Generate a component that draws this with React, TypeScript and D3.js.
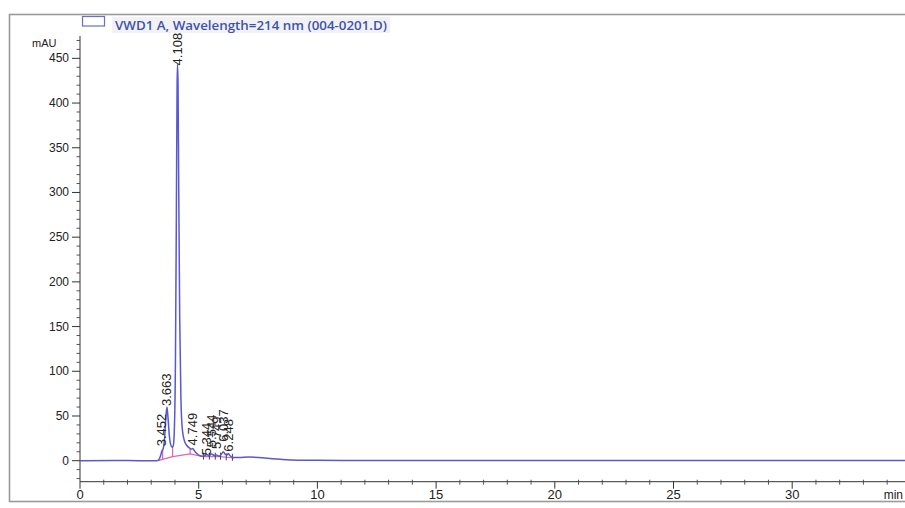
import React from "react";
import * as d3 from "d3";

// Signal trace: [time (min), absorbance (mAU)]
const signalTimes = [0, 1.5, 2.5, 3.25, 3.32, 3.40, 3.452, 3.50, 3.56, 3.61, 3.663, 3.71, 3.76, 3.82, 3.88, 3.93, 3.98, 4.02, 4.06, 4.09, 4.108, 4.13, 4.16, 4.20, 4.25, 4.31, 4.40, 4.50, 4.62, 4.70, 4.749, 4.82, 4.92, 5.02, 5.15, 5.25, 5.344, 5.43, 5.544, 5.64, 5.749, 5.85, 5.95, 6.037, 6.12, 6.20, 6.248, 6.32, 6.45, 6.7, 7.1, 7.5, 7.9, 8.3, 8.7, 9.2, 10, 12, 16, 22, 28, 35];
const signalValues = [0, 0.3, 0, 0, 1, 6, 11, 13, 24, 46, 60, 47, 29, 18, 15, 17, 40, 110, 280, 420, 443, 420, 300, 160, 70, 35, 22, 17, 14, 13, 13.5, 11, 8, 6, 5, 5.5, 7, 5.5, 7.5, 6, 6.5, 5, 7, 10, 7, 6.5, 8, 5.5, 3.5, 3.5, 4, 3.6, 2.8, 1.8, 1.0, 0.6, 0.4, 0.3, 0.2, 0.1, 0.1, 0.1];

// Integration baseline (pink)
const baseTimes = [3.30, 3.48, 3.90, 4.64, 5.20, 5.90, 6.50];
const baseValues = [0, 1.5, 4.5, 7.5, 4.5, 4.5, 3];

// Drop lines between peaks
const dropTimes = [3.48, 3.90, 4.64];
// Small dark boundary ticks
const tickTimes = [5.20, 5.45, 5.70, 5.92, 6.16, 6.42];

// Peak labels
const peakLabels = ["3.452", "3.663", "4.108", "4.749", "5.344", "5.544", "5.749", "6.037", "6.248"];
const peakTimes = [3.452, 3.663, 4.108, 4.749, 5.344, 5.544, 5.749, 6.037, 6.248];
const peakLabelValues = [15, 60, 441, 16, 5, 14, 12, 20, 9];

const yMajorTicks = [0, 50, 100, 150, 200, 250, 300, 350, 400, 450];
const xMajorTicks = [0, 5, 10, 15, 20, 25, 30];

const legendText = "VWD1 A, Wavelength=214 nm (004-0201.D)";

export default function App() {
  const x = d3.scaleLinear().domain([0, 35]).range([80, 80 + 35 * 23.74]);
  const y = d3.scaleLinear().domain([-23.5, 475]).range([481.7, 36]);

  const signal = signalTimes.map((t, i) => [t, signalValues[i]] as [number, number]);
  const base = baseTimes.map((t, i) => [t, baseValues[i]] as [number, number]);

  const line = d3
    .line<[number, number]>()
    .x((d) => x(d[0]))
    .y((d) => y(d[1]))
    .curve(d3.curveMonotoneX);
  const baseLine = d3
    .line<[number, number]>()
    .x((d) => x(d[0]))
    .y((d) => y(d[1]));

  const interp = (ts: number[], vs: number[], t: number) => {
    for (let i = 1; i < ts.length; i++) {
      if (t <= ts[i]) {
        const f = (t - ts[i - 1]) / (ts[i] - ts[i - 1]);
        return vs[i - 1] + f * (vs[i] - vs[i - 1]);
      }
    }
    return vs[vs.length - 1];
  };

  const yMinor = d3.range(-20, 471, 10).filter((v) => v % 50 !== 0);
  const xMinor = d3.range(0, 35, 1).filter((v) => v % 5 !== 0);
  const axisY = y(-23.5);
  const font = "'Liberation Sans', Arial, sans-serif";

  return (
    <svg
      width={905}
      height={508}
      style={{ position: "absolute", left: 0, top: 0, background: "#fff" }}
    >
      {/* outer frame */}
      <rect x={9.5} y={14.5} width={905} height={487} fill="none" stroke="#9a9a9a" strokeWidth={1.6} />

      {/* legend */}
      <rect x={112} y={17} width={278} height={16} fill="#f2f2f6" />
      <rect x={82.5} y={16.5} width={22} height={9.5} fill="#fff" stroke="#6b6bd0" strokeWidth={1.2} />
      <text
        x={115}
        y={29.5}
        fontFamily="'Open Sans', sans-serif"
        fontWeight={600}
        fontSize={12.5}
        fill="#3d52ad"
        textLength={272}
        lengthAdjust="spacingAndGlyphs"
      >
        {legendText}
      </text>

      {/* y axis */}
      <text x={32} y={47} fontFamily={font} fontSize={11} fill="#222">mAU</text>
      <line x1={80} x2={80} y1={36} y2={axisY} stroke="#333" strokeWidth={1} />
      {yMinor.map((v) => (
        <line key={"ym" + v} x1={76.5} x2={80} y1={y(v)} y2={y(v)} stroke="#444" strokeWidth={0.9} />
      ))}
      {yMajorTicks.map((v) => (
        <g key={"y" + v}>
          <line x1={72} x2={80} y1={y(v)} y2={y(v)} stroke="#333" strokeWidth={1} />
          <text x={69} y={y(v) + 4} textAnchor="end" fontFamily={font} fontSize={12} fill="#222">
            {v}
          </text>
        </g>
      ))}

      {/* x axis */}
      <line x1={80} x2={905} y1={axisY} y2={axisY} stroke="#333" strokeWidth={1} />
      {xMinor.map((v) => (
        <line key={"xm" + v} x1={x(v)} x2={x(v)} y1={axisY - 2} y2={axisY + 3} stroke="#444" strokeWidth={0.9} />
      ))}
      {xMajorTicks.map((v) => (
        <g key={"x" + v}>
          <line x1={x(v)} x2={x(v)} y1={axisY} y2={axisY + 7} stroke="#333" strokeWidth={1} />
          <text x={x(v)} y={499} textAnchor="middle" fontFamily={font} fontSize={13} fill="#222">
            {v}
          </text>
        </g>
      ))}
      <text x={903} y={499} textAnchor="end" fontFamily={font} fontSize={12} fill="#222">min</text>

      {/* baseline & drop lines */}
      <path d={baseLine(base) || ""} fill="none" stroke="#e066b0" strokeWidth={1.2} />
      {dropTimes.map((t) => (
        <line
          key={"d" + t}
          x1={x(t)}
          x2={x(t)}
          y1={y(interp(signalTimes, signalValues, t))}
          y2={y(interp(baseTimes, baseValues, t))}
          stroke="#e066b0"
          strokeWidth={1.2}
        />
      ))}
      {tickTimes.map((t) => (
        <line
          key={"t" + t}
          x1={x(t)}
          x2={x(t)}
          y1={y(interp(baseTimes, baseValues, t)) - 4}
          y2={y(interp(baseTimes, baseValues, t)) + 3}
          stroke="#333"
          strokeWidth={0.9}
        />
      ))}

      {/* signal */}
      <path d={line(signal) || ""} fill="none" stroke="#5858d0" strokeWidth={1.5} />

      {/* peak labels */}
      {peakLabels.map((lab, i) => {
        const px = x(peakTimes[i]) + 4.5;
        const py = y(peakLabelValues[i]) - 1;
        return (
          <text
            key={"p" + lab}
            transform={`translate(${px},${py}) rotate(-90)`}
            fontFamily={font}
            fontSize={13}
            fill="#222"
          >
            {lab}
          </text>
        );
      })}
    </svg>
  );
}
